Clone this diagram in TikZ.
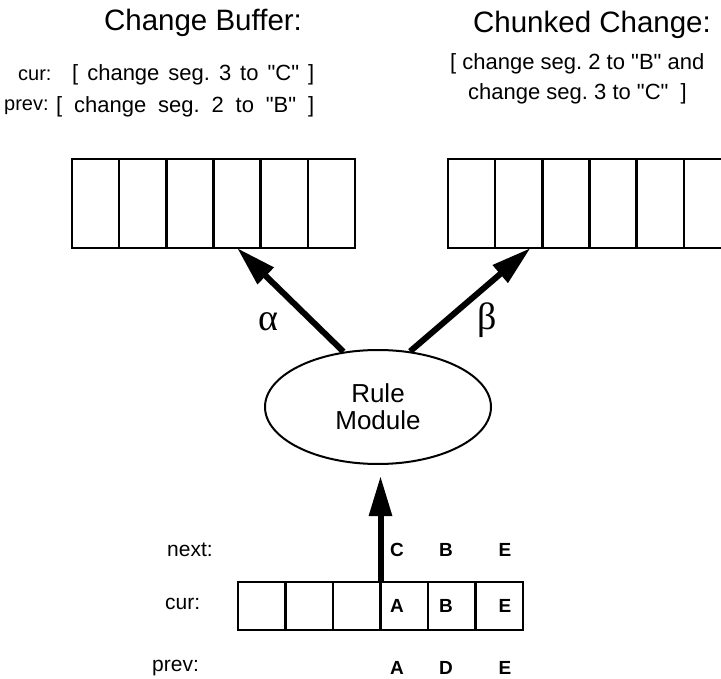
\documentclass[tikz,border=0pt]{standalone}
\usepackage{fontspec}
\setmainfont{Liberation Sans}[Ligatures=TeXOff]
\newfontfamily\greekfont{Liberation Serif}
\usetikzlibrary{arrows.meta,shapes.geometric,calc}
\frenchspacing
\tikzset{
  title/.style={font=\fontsize{29.5}{33}\selectfont, inner sep=0},
  txt/.style={font=\fontsize{22}{26}\selectfont, inner sep=0, anchor=west},
  toplbl/.style={font=\fontsize{20}{24}\selectfont, inner sep=0, anchor=west},
  lbl/.style={font=\fontsize{21}{24}\selectfont, inner sep=0, anchor=west},
  letter/.style={font=\fontsize{19}{21}\selectfont\bfseries, inner sep=0},
  cell/.style={draw, line width=2.4pt, minimum width=47.2pt, minimum height=89pt, inner sep=0, outer sep=0},
  bcell/.style={draw, line width=2.4pt, minimum width=47.5pt, minimum height=48pt, inner sep=0, outer sep=0},
  bigarrow/.style={line width=6pt, -{Triangle[length=40pt,width=22pt]}},
  greek/.style={font=\fontsize{38}{40}\selectfont\greekfont, inner sep=0},
}
\begin{document}
\begin{tikzpicture}[x=1pt,y=-1pt]
\useasboundingbox (0,0) rectangle (721,679);
\clip (0,0) rectangle (721,679);

% titles
\node[title] (tL) at (203,23) {Change Buffer:};
\node[title] (tR) at (592,25) {Chunked Change:};

% left texts
\node[toplbl] (curL) at (18,75) {cur:};
\node[txt] (curT) at (72,75) {\makebox[242pt][s]{[ change seg. 3 to "C" ]}};
\node[toplbl] (prevL) at (4,107) {prev:};
\node[txt] (prevT) at (56,107) {\makebox[258pt][s]{[ change seg. 2 to "B" ]}};

% right texts
\node[txt] (ch1) at (450,64) {[ change seg. 2 to "B" and};
\node[txt] (ch2) at (468,94) {change seg. 3 to "C"\ \ ]};

% left buffer
\foreach \i in {1,...,6} {
  \node[cell] (L\i) at ({72+47.17*(\i-0.5)},203.5) {};
}
% right buffer
\foreach \i in {1,...,6} {
  \node[cell] (R\i) at ({448+47.17*(\i-0.5)},203.5) {};
}

% rule module
\node[ellipse, draw, line width=2pt, minimum width=226pt, minimum height=114pt,
      align=center, font=\fontsize{26}{27}\selectfont, inner sep=0] (rm) at (378,407) {Rule\\Module};

% arrows
\draw[bigarrow] (rm.122) -- (L4.south);
\draw[bigarrow] (rm.60) -- ($(R2.south)!0.5!(R2.south east)$);
\node[greek] (alpha) at (268,322) {α};
\node[greek] (beta) at (487,320) {β};

% bottom buffer
\foreach \i in {1,...,6} {
  \node[bcell] (B\i) at ({238+47.5*(\i-0.5)},606) {};
}
\draw[bigarrow, shorten >=11pt] (B3.north east) -- (B3.north east |- rm.south);

% row labels
\node[lbl] (nextL) at (167,550) {next:};
\node[lbl] (curB) at (165,604) {cur:};
\node[lbl] (prevB) at (152,668) {prev:};

% letters
\node[letter] (n1) at (397,550) {C};
\node[letter] (n2) at (446,550) {B};
\node[letter] (n3) at (505,550) {E};
\node[letter] (c1) at (397,606) {A};
\node[letter] (c2) at (446,606) {B};
\node[letter] (c3) at (505,606) {E};
\node[letter] (p1) at (397,668) {A};
\node[letter] (p2) at (446,668) {D};
\node[letter] (p3) at (505,668) {E};
\end{tikzpicture}
\end{document}
